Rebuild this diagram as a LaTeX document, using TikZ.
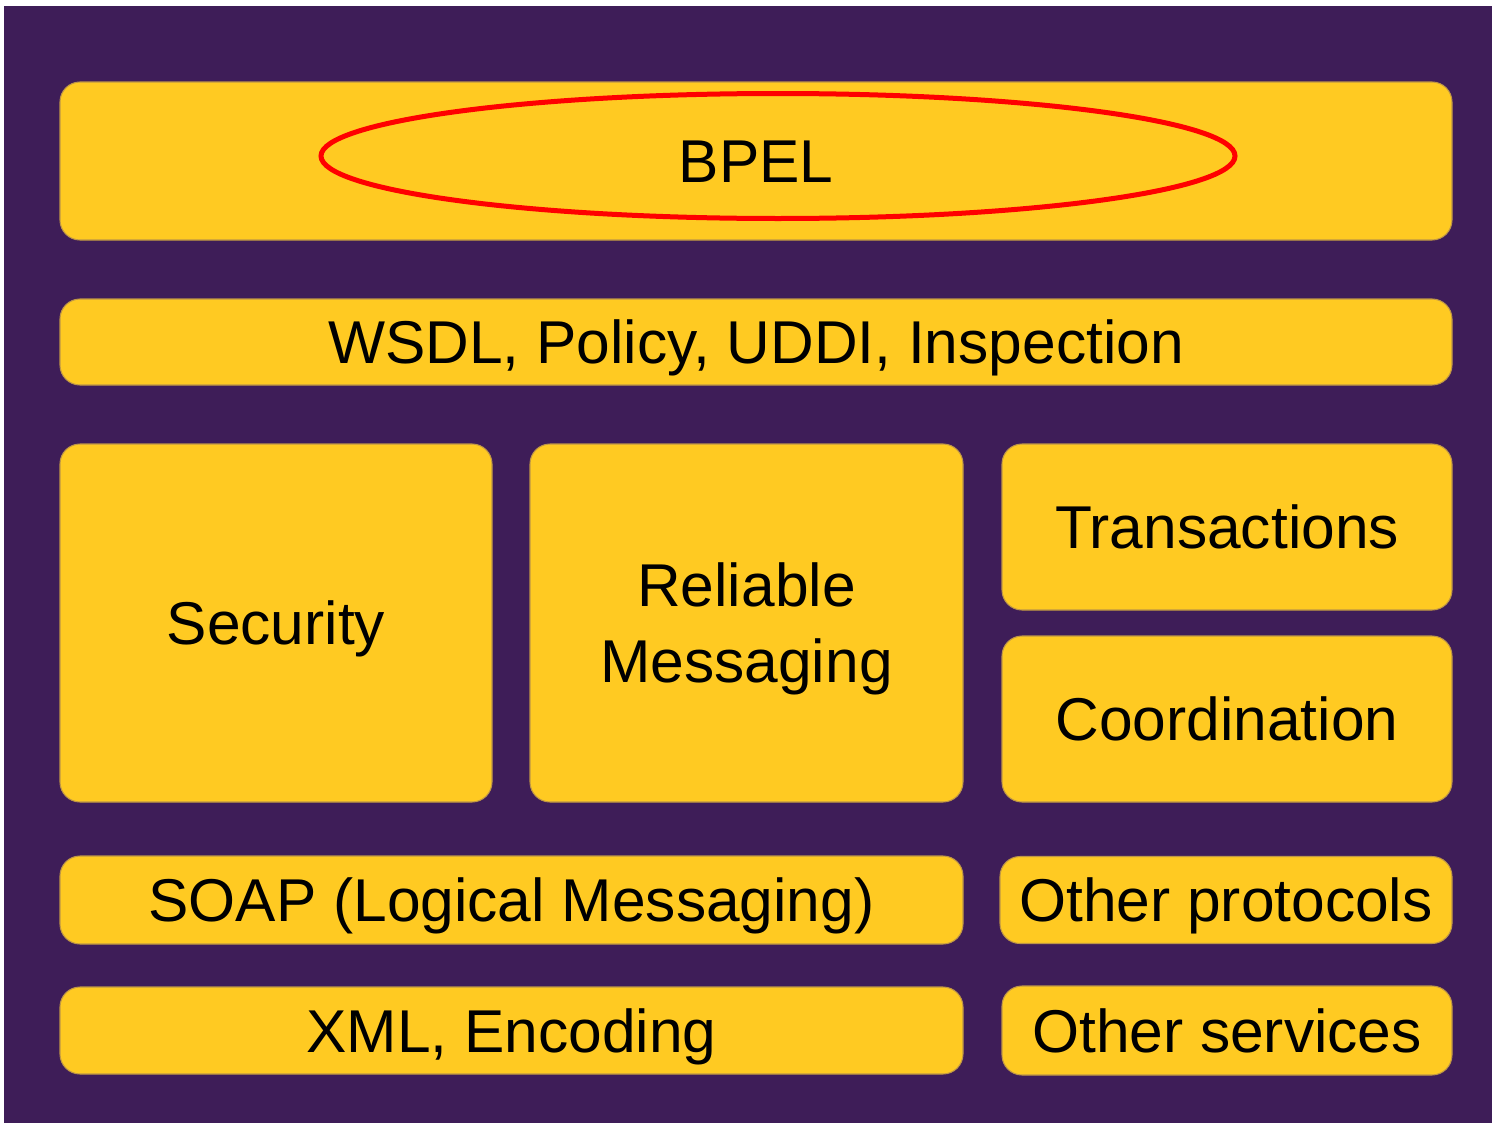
\documentclass[tikz,border=0pt]{standalone}
\usepackage{fontspec}
\setmainfont{Liberation Sans}
\usepackage{tikz}
\usetikzlibrary{positioning,shapes}

\definecolor{StackPurple}{RGB}{62,29,88}
\definecolor{StackYellow}{RGB}{255,202,34}
\definecolor{StackEdge}{RGB}{190,150,70}

\begin{document}
\begin{tikzpicture}[node distance=.5cm and .5cm,
                      layer/.style={draw=StackEdge,line width=.3pt,fill=StackYellow,rectangle,rounded corners=.2cm,
                                    outer sep=0pt,inner sep=0pt,align=center,text height=12.3pt,text depth=0pt,
                                    font={\fontsize{17.2}{21.6}\selectfont}},
                      ring/.style={draw=red,ellipse,line width=.05cm,inner sep=0pt,outer sep=0pt}]
    \useasboundingbox (0,0) rectangle (14.92,-11.23);
    \fill[StackPurple] (.04,-.06) rectangle (14.92,-11.23);
    \node[layer,anchor=north west,minimum width=13.92cm,minimum height=1.58cm] (bpel) at (.60,-.82) {BPEL};
    \node[layer,minimum width=13.92cm,minimum height=.86cm,below=.59cm of bpel] (wsdl) {WSDL, Policy, UDDI, Inspection};
    \node[layer,minimum width=4.32cm,minimum height=3.58cm,below=.59cm of wsdl.south west,anchor=north west] (security) {Security};
    \node[layer,minimum width=4.33cm,minimum height=3.58cm,text height=33.9pt,right=.38cm of security] (reliable) {Reliable\\Messaging};
    \node[layer,minimum width=4.50cm,minimum height=1.66cm,right=.39cm of reliable.north east,anchor=north west] (transactions) {Transactions};
    \node[layer,minimum width=4.50cm,minimum height=1.66cm,below=.26cm of transactions] (coordination) {Coordination};
    \node[layer,minimum width=9.03cm,minimum height=.88cm,below=.54cm of security.south west,anchor=north west] (soap) {SOAP (Logical Messaging)};
    \node[layer,minimum width=4.52cm,minimum height=.87cm,right=.37cm of soap] (otherprot) {Other protocols};
    \node[layer,minimum width=9.03cm,minimum height=.87cm,below=.43cm of soap] (xml) {XML, Encoding};
    \node[layer,minimum width=4.50cm,minimum height=.89cm,right=.39cm of xml] (otherserv) {Other services};
    \node[ring,minimum width=9.14cm,minimum height=1.25cm] (bpelring) at ([xshift=.22cm,yshift=.05cm]bpel.center) {};
  \end{tikzpicture}
\end{document}
